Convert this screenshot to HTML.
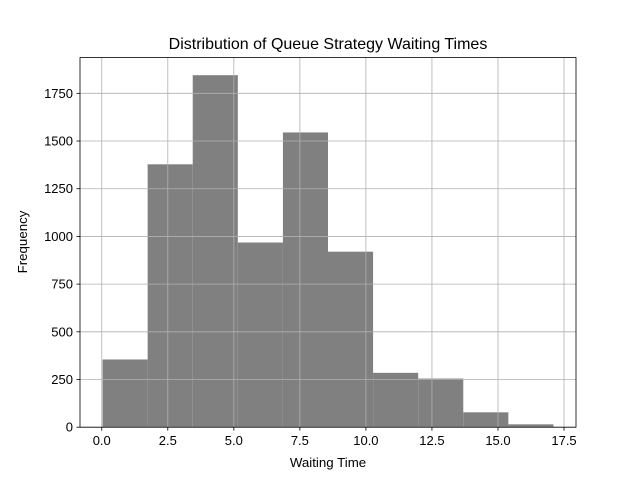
<!DOCTYPE html>
<html><head><meta charset="utf-8"><style>
body{margin:0;background:#fff;}
svg text{font-family:"Liberation Sans","DejaVu Sans",sans-serif;fill:#000;}
</style></head><body>
<svg id="chart" width="640" height="480" xmlns="http://www.w3.org/2000/svg">
<rect width="640" height="480" fill="#fff"/>
<g id="bars"></g><g id="grid"></g><g id="axes"></g>
<text x="328" y="49" font-size="16" text-anchor="middle">Distribution of Queue Strategy Waiting Times</text>
<text x="328" y="467" font-size="13.3" text-anchor="middle">Waiting Time</text>
<text x="27" y="242" font-size="13.3" text-anchor="middle" transform="rotate(-90 27 242)">Frequency</text>
</svg>
<script>
const binCounts=[355,1378,1845,968,1545,920,285,255,78,15];
const dataMin=0.03;
const dataMax=17.1;
const xTicks=[0,2.5,5,7.5,10,12.5,15,17.5];
const xTickLabels=["0.0","2.5","5.0","7.5","10.0","12.5","15.0","17.5"];
const yTicks=[0,250,500,750,1000,1250,1500,1750];
const yTickLabels=["0","250","500","750","1000","1250","1500","1750"];
const NS="http://www.w3.org/2000/svg";
const L=80,R=576,T=57.6,B=427.2;
const span=dataMax-dataMin;
const x0=dataMin-0.05*span,x1=dataMax+0.05*span;
const yMax=Math.max(...binCounts)*1.05;
const sx=v=>L+(v-x0)/(x1-x0)*(R-L);
const sy=v=>B-v/yMax*(B-T);
function mk(tag,attrs,parent){const e=document.createElementNS(NS,tag);for(const k in attrs)e.setAttribute(k,attrs[k]);parent.appendChild(e);return e;}
const bars=document.getElementById('bars'),grid=document.getElementById('grid'),axes=document.getElementById('axes');
const bw=span/binCounts.length;
binCounts.forEach((c,i)=>{
  const a=sx(dataMin+i*bw),b=sx(dataMin+(i+1)*bw);
  const r=mk('rect',{x:a,y:sy(c),width:b-a,height:B-sy(c),fill:'#808080'},bars);
  
  
});
xTicks.forEach((t,i)=>{
  const x=sx(t);
  const g=mk('line',{x1:x,x2:x,y1:T,y2:B,stroke:'#b0b0b0','stroke-width':0.8},grid);
  
  
  mk('line',{x1:x,x2:x,y1:B,y2:B+3.5,stroke:'#000','stroke-width':0.8},axes);
  const tx=mk('text',{x:x,y:B+18,'font-size':13,'text-anchor':'middle'},axes);
  tx.textContent=xTickLabels[i];
  
  
});
yTicks.forEach((t,i)=>{
  const y=sy(t);
  const g=mk('line',{x1:L,x2:R,y1:y,y2:y,stroke:'#b0b0b0','stroke-width':0.8},grid);
  
  
  mk('line',{x1:L-3.5,x2:L,y1:y,y2:y,stroke:'#000','stroke-width':0.8},axes);
  const tx=mk('text',{x:L-7,y:y+4.5,'font-size':13,'text-anchor':'end'},axes);
  tx.textContent=yTickLabels[i];
  
  
});
const fr=mk('rect',{x:L,y:T,width:R-L,height:B-T,fill:'none',stroke:'#000','stroke-width':0.8},axes);


</script>
</body></html>
